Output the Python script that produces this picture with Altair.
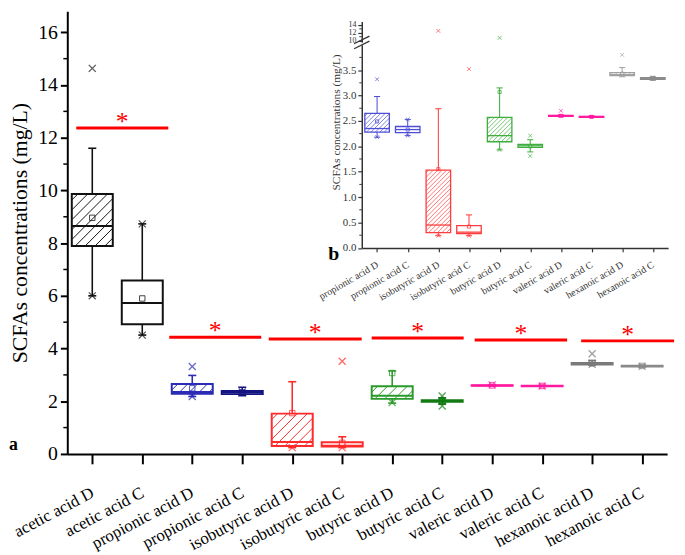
import numpy as np
import pandas as pd
import altair as alt

# ---------------- data ----------------
cats = ["acetic acid D", "acetic acid C", "propionic acid D", "propionic acid C",
        "isobutyric acid D", "isobutyric acid C", "butyric acid D", "butyric acid C",
        "valeric acid D", "valeric acid C", "hexanoic acid D", "hexanoic acid C"]
whisk_lo = [6.00, 4.51, 2.18, 2.21, 0.24, 0.24, 1.93, 1.89, 2.58, 2.57, 3.37, 3.30]
q1 =       [7.89, 4.92, 2.28, 2.27, 0.30, 0.28, 2.09, 1.98, 2.59, 2.57, 3.39, 3.32]
median =   [8.65, 5.73, 2.35, 2.33, 0.45, 0.31, 2.21, 2.01, 2.60, 2.58, 3.41, 3.34]
q3 =       [9.86, 6.58, 2.65, 2.39, 1.53, 0.44, 2.57, 2.04, 2.61, 2.59, 3.45, 3.35]
whisk_hi = [11.60, 8.73, 2.98, 2.53, 2.74, 0.65, 3.15, 2.13, 2.62, 2.60, 3.55, 3.37]
mean =     [8.96, 5.90, 2.49, 2.33, 1.55, 0.42, 3.07, 2.00, 2.60, 2.58, 3.43, 3.34]
hatched =  [True, False] * 6

main_colors = ["#111111", "#111111", "#2b2bb5", "#141480", "#ff2b2b", "#ff2b2b",
               "#2a9a2a", "#117a11", "#ff1aa0", "#ff1aa0", "#7a7a7a", "#8a8a8a"]
inset_colors = ["#4d4dd6", "#4d4dd6", "#ff3b3b", "#ff3b3b", "#3fae3f", "#3fae3f",
                "#ff1aa0", "#ff1aa0", "#a0a0a0", "#8a8a8a"]

# x-markers in main panel (category index, value)
main_mark_idx = [0, 0, 1, 1, 2, 2, 3, 4, 5, 5, 6, 7, 7, 7, 8, 9, 10, 10, 11]
main_mark_val = [14.63, 6.00, 8.73, 4.51, 3.32, 2.18, 2.35, 0.24, 3.52, 0.24,
                 1.95, 2.20, 1.82, 2.01, 2.62, 2.58, 3.80, 3.40, 3.33]
# x-markers in inset (inset index 0..9 = cats[2:])
inset_mark_idx = [0, 0, 1, 1, 2, 3, 3, 4, 5, 5, 6, 7, 8, 9]
inset_mark_val = [3.32, 2.18, 2.53, 2.21, 0.24, 3.52, 0.24, 1.93, 2.21, 1.81,
                  2.70, 2.58, 3.80, 3.36]
inset_high_idx = [2, 4]
inset_high_val = [12.5, 10.7]

# significance bars
sig_start = [0.18, 2.04, 4.03, 6.09, 8.15, 10.28]
sig_end = [2.02, 3.88, 5.89, 7.93, 10.00, 12.14]
sig_y = [12.37, 4.43, 4.36, 4.40, 4.32, 4.29]

main_y_ticks = [0, 2, 4, 6, 8, 10, 12, 14, 16]
main_y_minor = [1, 3, 5, 7, 9, 11, 13, 15]
inset_y_ticks = [0.0, 0.5, 1.0, 1.5, 2.0, 2.5, 3.0, 3.5]
inset_y_minor = [0.25, 0.75, 1.25, 1.75, 2.25, 2.75, 3.25, 3.75]
inset_hi_ticks = [10, 12, 14]
inset_hi_minor = [11, 13]

# ---------------- geometry ----------------
W, H = 607, 448
Y_MAX = 16.8
IN_X0, IN_X1 = 298, 608
IN_Y0, IN_Y1 = 239.5, 33.9
IN_YMAX = 4.0
IN_HI_DOM = [9.6, 14.9]
IN_HI_RANGE = [31.3, 10.4]

SERIF = "Liberation Serif"
GRAY = "#333333"
cross_path = "M-1,-1L1,1M-1,1L1,-1"


def label_expr(names):
    parts = [f"datum.value < {i + 1} ? '{n}'" for i, n in enumerate(names)]
    return " : ".join(parts) + " : ''"


def box_frame(idx, colors, half):
    n = len(idx)
    return pd.DataFrame({
        "c": [i + 0.5 for i in range(n)],
        "xl": [i + 0.5 - half for i in range(n)],
        "xr": [i + 0.5 + half for i in range(n)],
        "lo": [whisk_lo[k] for k in idx],
        "q1": [q1[k] for k in idx],
        "med": [median[k] for k in idx],
        "q3": [q3[k] for k in idx],
        "hi": [whisk_hi[k] for k in idx],
        "mean": [mean[k] for k in idx],
        "col": colors,
        "hatch": [hatched[k] for k in idx],
    })


def hatch_frame(df, pxx, pxy, spacing):
    rows = []
    for _, r in df[df["hatch"]].iterrows():
        X0, X1 = r.xl * pxx, r.xr * pxx
        Y0, Y1 = r.q1 * pxy, r.q3 * pxy
        Hh = Y1 - Y0
        for c in np.arange(X0 - Hh + spacing * 0.6, X1, spacing):
            t0 = max(0.0, X0 - c)
            t1 = min(Hh, X1 - c)
            if t1 - t0 > 0.8:
                rows.append({"col": r.col, "x1": (c + t0) / pxx, "x2": (c + t1) / pxx,
                             "y1": (Y0 + t0) / pxy, "y2": (Y0 + t1) / pxy})
    return pd.DataFrame(rows)


def caps_frame(df, cw):
    rows = []
    for _, r in df.iterrows():
        for v in (r.lo, r.hi):
            rows.append({"col": r.col, "x1": r.c - cw, "x2": r.c + cw, "y": v})
    return pd.DataFrame(rows)


def box_layers(df, xs, ys, sw, hatch_df, hatch_sw, cw, mean_size, marks_df, mark_size, mark_sw):
    X = lambda f: alt.X(f, type="quantitative", scale=xs, axis=None, title=None)
    Y = lambda f: alt.Y(f, type="quantitative", scale=ys, axis=None, title=None)
    S = alt.Stroke("col:N", scale=None)
    base = alt.Chart(df)
    whisk = base.mark_rule(strokeWidth=sw * 0.8).encode(x=X("c"), y=Y("lo"), y2="hi", stroke=S)
    caps = alt.Chart(caps_frame(df, cw)).mark_rule(strokeWidth=sw * 0.8).encode(
        x=X("x1"), x2="x2", y=Y("y"), stroke=S)
    box = base.mark_rect(fill="white", strokeWidth=sw).encode(
        x=X("xl"), x2="xr", y=Y("q1"), y2="q3", stroke=S)
    hat = alt.Chart(hatch_df).mark_rule(strokeWidth=hatch_sw).encode(
        x=X("x1"), x2="x2", y=Y("y1"), y2="y2", stroke=S)
    med = base.mark_rule(strokeWidth=sw).encode(x=X("xl"), x2="xr", y=Y("med"), stroke=S)
    mn = base.mark_point(shape="square", filled=False, size=mean_size, strokeWidth=1, opacity=0.8).encode(
        x=X("c"), y=Y("mean"), stroke=S)
    mk = alt.Chart(marks_df).mark_point(shape=cross_path, filled=False, size=mark_size,
                                        strokeWidth=mark_sw).encode(
        x=X("c"), y=Y("v"), stroke=S)
    return [whisk, caps, box, hat, med, mn, mk]


# ---------------- scales ----------------
main_x = alt.Scale(domain=[0, 12], range=[0, W], nice=False, zero=False)
main_y = alt.Scale(domain=[0, Y_MAX], range=[H, 0], nice=False, zero=False)
in_x = alt.Scale(domain=[0, 10], range=[IN_X0, IN_X1], nice=False, zero=False)
in_y = alt.Scale(domain=[0, IN_YMAX], range=[IN_Y0, IN_Y1], nice=False, zero=False)
in_y_hi = alt.Scale(domain=IN_HI_DOM, range=IN_HI_RANGE, nice=False, zero=False)

# ---------------- main panel ----------------
main_df = box_frame(list(range(12)), main_colors, 0.41)
main_hatch = hatch_frame(main_df, W / 12, H / Y_MAX, 10)
main_marks = pd.DataFrame({"c": [i + 0.5 for i in main_mark_idx], "v": main_mark_val,
                           "col": [main_colors[i] for i in main_mark_idx]})
main_boxes = box_layers(main_df, main_x, main_y, 2, main_hatch, 1, 0.08, 30, main_marks, 50, 1.3)

axis_df = pd.DataFrame({"c": [0.5], "v": [0.0]})
main_axes = alt.Chart(axis_df).mark_point(opacity=0).encode(
    x=alt.X("c:Q", scale=main_x, title=None, axis=alt.Axis(
        values=[i + 0.5 for i in range(12)],
        labelExpr=label_expr(cats),
        labelAngle=-28, labelAlign="right", labelBaseline="middle",
        labelFont=SERIF, labelFontSize=17, labelColor="black", labelPadding=28,
        labelOverlap=False, labelBound=False, labelFlush=False,
        tickSize=10, tickWidth=2, tickColor="black",
        domainColor="black", domainWidth=2, grid=False)),
    y=alt.Y("v:Q", scale=main_y, title="SCFAs concentrations (mg/L)", axis=alt.Axis(
        values=main_y_ticks,
        titleFont=SERIF, titleFontSize=22, titleFontWeight="normal", titleColor="black",
        titlePadding=6,
        labelFont=SERIF, labelFontSize=20, labelColor="black", labelPadding=3,
        tickSize=7, tickWidth=2, tickColor="black",
        domainColor="black", domainWidth=2, grid=False)),
)

minor_main = alt.Chart(pd.DataFrame({"v": main_y_minor})).mark_rule(
    color="black", strokeWidth=1.5).encode(
    y=alt.Y("v:Q", scale=main_y, axis=None), x=alt.value(-4), x2=alt.value(0))

sig_df = pd.DataFrame({"x1": sig_start, "x2": sig_end, "y": sig_y,
                       "xc": [(a + b) / 2 for a, b in zip(sig_start, sig_end)]})
sig_lines = alt.Chart(sig_df).mark_rule(color="#ff0000", strokeWidth=3).encode(
    x=alt.X("x1:Q", scale=main_x, axis=None), x2="x2",
    y=alt.Y("y:Q", scale=main_y, axis=None))
sig_star = alt.Chart(sig_df).mark_text(text="*", color="#ff0000", font=SERIF, fontSize=26,
                                       baseline="middle", dy=-6).encode(
    x=alt.X("xc:Q", scale=main_x, axis=None), y=alt.Y("y:Q", scale=main_y, axis=None))

label_a = alt.Chart(pd.DataFrame({"t": ["a"]})).mark_text(
    font=SERIF, fontSize=18, fontWeight="bold", color="black", align="left", baseline="alphabetic").encode(
    text="t:N", x=alt.value(-59), y=alt.value(444))
label_b = alt.Chart(pd.DataFrame({"t": ["b"]})).mark_text(
    font=SERIF, fontSize=20, fontWeight="bold", color="black", align="left", baseline="alphabetic").encode(
    text="t:N", x=alt.value(264), y=alt.value(252))

# ---------------- inset ----------------
in_idx = list(range(2, 12))
in_df = box_frame(in_idx, inset_colors, 0.4)
in_hatch = hatch_frame(in_df, (IN_X1 - IN_X0) / 10, (IN_Y0 - IN_Y1) / IN_YMAX, 4.5)
in_marks = pd.DataFrame({"c": [i + 0.5 for i in inset_mark_idx], "v": inset_mark_val,
                         "col": [inset_colors[i] for i in inset_mark_idx]})
in_boxes = box_layers(in_df, in_x, in_y, 1.3, in_hatch, 0.7, 0.1, 10, in_marks, 14, 1.0)

in_axes = alt.Chart(axis_df).mark_point(opacity=0).encode(
    x=alt.X("c:Q", scale=in_x, title=None, axis=alt.Axis(
        orient="bottom", offset=-(H - IN_Y0),
        values=[i + 0.5 for i in range(10)],
        labelExpr=label_expr(cats[2:]),
        labelAngle=-30, labelAlign="right", labelBaseline="middle",
        labelFont=SERIF, labelFontSize=10, labelColor=GRAY, labelPadding=12,
        labelOverlap=False, labelBound=False, labelFlush=False,
        tickSize=4, tickWidth=1.2, tickColor=GRAY,
        domainColor=GRAY, domainWidth=1.5, grid=False)),
    y=alt.Y("v:Q", scale=in_y, title="SCFAs concentrations (mg/L)", axis=alt.Axis(
        orient="left", offset=-IN_X0,
        values=inset_y_ticks, format=".1f",
        titleFont=SERIF, titleFontSize=11.5, titleFontWeight="normal", titleColor=GRAY,
        titlePadding=1, titleY=112,
        labelFont=SERIF, labelFontSize=11, labelColor=GRAY, labelPadding=2,
        tickSize=4, tickWidth=1.2, tickColor=GRAY,
        domainColor=GRAY, domainWidth=1.5, grid=False)),
)
minor_in = alt.Chart(pd.DataFrame({"v": inset_y_minor})).mark_rule(
    color=GRAY, strokeWidth=1).encode(
    y=alt.Y("v:Q", scale=in_y, axis=None), x=alt.value(IN_X0 - 2.5), x2=alt.value(IN_X0))

brk = pd.DataFrame({"x1": [-0.25, -0.25], "x2": [0.25, 0.25], "y1": [3.92, 4.02], "y2": [4.07, 4.17]})
break_marks = alt.Chart(brk).mark_rule(color=GRAY, strokeWidth=1.3).encode(
    x=alt.X("x1:Q", scale=in_x, axis=None), x2="x2",
    y=alt.Y("y1:Q", scale=in_y, axis=None), y2="y2")

# upper segment of broken inset axis
hi_df = pd.DataFrame({"c": [i + 0.5 for i in inset_high_idx], "v": inset_high_val,
                      "col": [inset_colors[i] for i in inset_high_idx]})
hi_axis = alt.Chart(pd.DataFrame({"c": [0.5], "v": [10.0]})).mark_point(opacity=0).encode(
    x=alt.X("c:Q", scale=in_x, axis=None),
    y=alt.Y("v:Q", scale=in_y_hi, title=None, axis=alt.Axis(
        orient="left", offset=-IN_X0, values=inset_hi_ticks,
        labelFont=SERIF, labelFontSize=8, labelColor=GRAY, labelPadding=2,
        labelOverlap=False, labelBound=False, labelFlush=False,
        tickSize=4, tickWidth=1.2, tickColor=GRAY,
        domainColor=GRAY, domainWidth=1.5, grid=False)))
hi_marks = alt.Chart(hi_df).mark_point(shape=cross_path, filled=False, size=14, strokeWidth=1.0).encode(
    x=alt.X("c:Q", scale=in_x, axis=None), y=alt.Y("v:Q", scale=in_y_hi, axis=None),
    stroke=alt.Stroke("col:N", scale=None))
hi_minor = alt.Chart(pd.DataFrame({"v": inset_hi_minor})).mark_rule(
    color=GRAY, strokeWidth=1).encode(
    y=alt.Y("v:Q", scale=in_y_hi, axis=None), x=alt.value(IN_X0 - 2.5), x2=alt.value(IN_X0))

layers = ([main_axes] + main_boxes + [minor_main, sig_lines, sig_star, label_a, label_b]
          + [in_axes] + in_boxes + [minor_in, break_marks, hi_axis, hi_marks, hi_minor])

chart = alt.layer(*layers).resolve_scale(
    x="independent", y="independent"
).properties(
    width=W, height=H,
    autosize=alt.AutoSizeParams(type="none"),
    padding={"left": 60, "top": 0, "right": 10, "bottom": 99},
).configure_view(stroke=None)

chart.save("out.html", embed_options={"renderer": "svg", "actions": False})
